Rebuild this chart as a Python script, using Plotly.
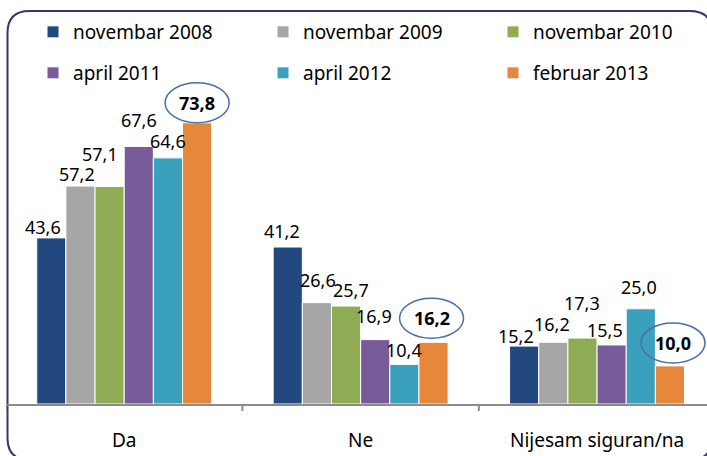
import plotly.graph_objects as go

# ---- data ----
categories = ["Da", "Ne", "Nijesam siguran/na"]
series_names = ["novembar 2008", "novembar 2009", "novembar 2010",
                "april 2011", "april 2012", "februar 2013"]
nov_2008 = [43.6, 41.2, 15.2]
nov_2009 = [57.2, 26.6, 16.2]
nov_2010 = [57.1, 25.7, 17.3]
apr_2011 = [67.6, 16.9, 15.5]
apr_2012 = [64.6, 10.4, 25.0]
feb_2013 = [73.8, 16.2, 10.0]
series_values = [nov_2008, nov_2009, nov_2010, apr_2011, apr_2012, feb_2013]

# ---- style ----
colors = ["#23487d", "#a6a6a6", "#8fac55", "#775c99", "#3aa0bb", "#e7873b"]
FONT = "Noto Sans, DejaVu Sans, sans-serif"
# per-label pixel nudges (series x category), as the labels were placed in the original
label_dx = [[-8, -6, -8], [-3, 1, -1], [-10, 5, 0], [0, -1, -7], [0, 0, -2], [0, -2, 3]]
label_dy = [[11, 16, 10], [12, 23, 18], [32, 16, 35], [26, 24, 15], [17, 14, 22], [20, 24, 23]]

W, H = 707, 456
ML, MR, MT, MB = 6, 0, 5, 52
PW, PH = W - ML - MR, H - MT - MB
PX_PER_UNIT = 3.81
BARGAP = 0.26
n = len(series_values)

def px_x(p):
    return (p - ML) / PW

def px_y(p):
    return 1 - (p - MT) / PH

fig = go.Figure()
for i, (name, vals) in enumerate(zip(series_names, series_values)):
    fig.add_trace(go.Bar(
        x=list(range(len(categories))), y=vals, name=name,
        marker=dict(color=colors[i], line=dict(color="white", width=1)),
        legend="legend" if i < 3 else "legend2",
        hoverinfo="skip",
    ))

annotations = []
shapes = []
bw = (1 - BARGAP) / n
for i, vals in enumerate(series_values):
    off = -(1 - BARGAP) / 2 + (i + 0.5) * bw
    for j, v in enumerate(vals):
        txt = f"{v:.1f}".replace(".", ",")
        bold = i == n - 1
        annotations.append(dict(
            x=j + off, y=v, xref="x", yref="y",
            text=f"<b>{txt}</b>" if bold else txt,
            showarrow=False, xanchor="center", yanchor="middle",
            xshift=label_dx[i][j], yshift=label_dy[i][j],
            font=dict(family=FONT, size=18, color="black"),
        ))
        if bold:
            dx, dy = label_dx[i][j], label_dy[i][j]
            shapes.append(dict(
                type="circle", xref="x", yref="y",
                xsizemode="pixel", ysizemode="pixel",
                xanchor=j + off, yanchor=v,
                x0=dx - 32, x1=dx + 32, y0=dy - 20, y1=dy + 20,
                line=dict(color="#4a6fa5", width=1.5),
            ))

# rounded outer frame (partly cropped by the picture edge)
L, T, R, B, r = 7.5, 11, 712, 460, 22
xl, xr = px_x(L), px_x(R)
yt, yb = px_y(T), px_y(B)
rx, ry = r / PW, r / PH
path = (f"M{xl+rx},{yt} L{xr-rx},{yt} Q{xr},{yt} {xr},{yt-ry} "
        f"L{xr},{yb+ry} Q{xr},{yb} {xr-rx},{yb} L{xl+rx},{yb} "
        f"Q{xl},{yb} {xl},{yb+ry} L{xl},{yt-ry} Q{xl},{yt} {xl+rx},{yt} Z")
shapes.append(dict(type="path", xref="paper", yref="paper", path=path,
                   line=dict(color="#3d3566", width=2), layer="below"))

legend_common = dict(orientation="h", entrywidth=185, entrywidthmode="pixels",
                     font=dict(family=FONT, size=19, color="black"),
                     bgcolor="rgba(0,0,0,0)", xanchor="left", yanchor="middle",
                     traceorder="normal", itemclick=False)

fig.update_layout(
    width=W, height=H,
    margin=dict(l=ML, r=MR, t=MT, b=MB, autoexpand=False),
    paper_bgcolor="white", plot_bgcolor="white",
    barmode="group", bargap=BARGAP, bargroupgap=0,
    showlegend=True,
    legend=dict(x=px_x(33), y=px_y(32), **legend_common),
    legend2=dict(x=px_x(33), y=px_y(73), **legend_common),
    xaxis=dict(
        tickmode="array", tickvals=list(range(len(categories))), ticktext=categories,
        range=[-0.5, 2.465], showline=True, linecolor="#8c8c8c", linewidth=2,
        ticks="", showgrid=False, zeroline=False,
        tickfont=dict(family=FONT, size=19, color="black"),
        ticklabelstandoff=18, fixedrange=True,
    ),
    yaxis=dict(range=[0, PH / PX_PER_UNIT], visible=False, fixedrange=True),
    annotations=annotations,
    shapes=shapes,
)

# category boundary tick marks below the axis line
for b in [-0.5, 0.5, 1.5]:
    fig.add_shape(type="line", xref="x", yref="paper", x0=b, x1=b,
                  y0=0, y1=-7 / PH, line=dict(color="#8c8c8c", width=2))

fig.write_html(
    "out.html",
    config={"displayModeBar": False},
    post_script="document.body.style.margin='0';document.body.style.overflow='hidden';",
)
